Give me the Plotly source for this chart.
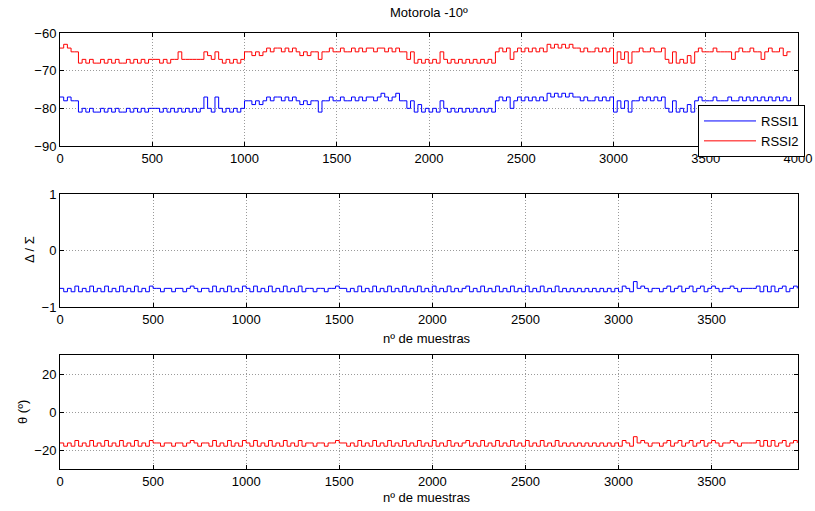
import plotly.graph_objects as go

STEP = 20  # samples between listed readings

rssi1 = [
    -77, -78, -77, -78, -78,
    -81, -80, -81, -80, -81, -81, -80, -81, -80, -81, -80, -81, -81, -80, -81, -80, -81, -80, -81, -80,
    -80, -80,
    -81, -80, -81, -80, -81, -80, -81,
    -80, -81, -80, -81, -80, -77, -80, -81, -77, -80, -81, -80, -81, -80, -81, -80,
    -78, -78, -79, -78, -79, -78,
    -77, -78, -77, -77, -78, -77, -78, -77,
    -78, -79, -78, -79, -78, -78, -81,
    -78, -78, -77, -78, -78, -77, -78, -78, -77, -78,
    -77, -78, -77, -77, -78, -77, -76, -77, -78, -77, -76,
    -78, -78,
    -80, -78, -81, -79,
    -81, -80, -81, -80, -81, -78, -80, -81, -80, -81, -80, -81, -80, -81, -80, -81, -80, -81, -80, -81,
    -78, -77, -78, -77, -80, -78, -77, -78, -77, -78, -77, -78, -77, -78,
    -76, -77, -76, -77, -76, -77, -76, -77,
    -77, -78, -77, -78, -78, -77, -78, -77, -78, -77,
    -81, -78, -80, -78, -81, -78,
    -78, -77, -78, -77, -78, -77, -78, -77,
    -80, -81, -78, -81, -80, -81, -79, -81,
    -78, -77, -78,
    -78, -78, -77, -78, -78, -78, -77, -78, -78, -77, -78, -77, -78, -77, -78, -77, -78, -77, -78, -77, -78, -77, -78, -77,
]

rssi2 = [
    -64, -63, -64, -65, -65,
    -68, -67, -68, -67, -68, -68, -67, -68, -67, -68, -67, -68, -68, -67, -68, -67, -68, -67, -68, -67,
    -67, -67,
    -68, -67, -68, -67, -67, -65, -67,
    -67, -67, -67, -67, -67, -65, -66, -67, -65, -67, -68, -67, -68, -67, -68, -67,
    -65, -65, -66, -65, -66, -65,
    -64, -65, -64, -64, -65, -64, -65, -64,
    -65, -66, -65, -66, -65, -65, -67,
    -65, -65, -64, -65, -65, -64, -65, -65, -64, -65,
    -64, -65, -64, -64, -65, -64, -64, -65, -64, -65, -64,
    -65, -65,
    -67, -65, -68, -67,
    -68, -67, -68, -67, -68, -65, -67, -68, -67, -68, -67, -68, -67, -68, -67, -68, -67, -68, -67, -68,
    -65, -64, -65, -64, -67, -65, -64, -65, -64, -65, -64, -65, -64, -65,
    -63, -64, -63, -64, -63, -64, -63, -64,
    -64, -65, -64, -65, -65, -64, -65, -64, -65, -64,
    -68, -65, -67, -65, -68, -65,
    -65, -64, -65, -65, -64, -65, -65, -64,
    -67, -68, -65, -68, -67, -68, -66, -68,
    -65, -64, -65,
    -65, -65, -64, -65, -65, -65, -65, -67, -65, -64, -65, -65, -64, -65, -65, -67, -65, -64, -65, -65, -64, -66, -65, -65,
]

delta_sigma = [
    -0.67, -0.73, -0.67, -0.73, -0.63, -0.73, -0.67, -0.73, -0.63, -0.73,
    -0.67, -0.73, -0.63, -0.73, -0.67, -0.73, -0.63, -0.73, -0.67, -0.73,
    -0.63, -0.73, -0.67, -0.73, -0.63, -0.67, -0.67, -0.73, -0.67, -0.67,
    -0.73, -0.67, -0.67, -0.73, -0.67, -0.63, -0.67, -0.73, -0.67, -0.67,
    -0.73, -0.63, -0.73, -0.67, -0.73, -0.63, -0.73, -0.67, -0.73, -0.63,
    -0.67, -0.73, -0.63, -0.73, -0.67, -0.73, -0.63, -0.73, -0.67, -0.73,
    -0.63, -0.73, -0.67, -0.73, -0.63, -0.73, -0.67, -0.67, -0.73, -0.67,
    -0.67, -0.73, -0.67, -0.67, -0.63, -0.67, -0.67, -0.73, -0.67, -0.73,
    -0.63, -0.73, -0.67, -0.73, -0.63, -0.73, -0.67, -0.73, -0.63, -0.73,
    -0.67, -0.73, -0.63, -0.73, -0.67, -0.73, -0.63, -0.73, -0.67, -0.73,
    -0.63, -0.73, -0.67, -0.73, -0.63, -0.73, -0.67, -0.73, -0.67, -0.63,
    -0.73, -0.67, -0.73, -0.63, -0.73, -0.67, -0.73, -0.63, -0.73, -0.67,
    -0.73, -0.63, -0.73, -0.67, -0.73, -0.63, -0.73, -0.67, -0.73, -0.63,
    -0.73, -0.67, -0.73, -0.63, -0.73, -0.67, -0.73, -0.67, -0.73, -0.67,
    -0.73, -0.67, -0.73, -0.67, -0.73, -0.67, -0.73, -0.67, -0.73, -0.67,
    -0.73, -0.63, -0.67, -0.73, -0.55, -0.67, -0.63, -0.67, -0.73, -0.67,
    -0.67, -0.73, -0.67, -0.63, -0.73, -0.67, -0.63, -0.73, -0.67, -0.63,
    -0.73, -0.67, -0.63, -0.73, -0.67, -0.63, -0.67, -0.73, -0.67, -0.67,
    -0.63, -0.67, -0.73, -0.67, -0.67, -0.67, -0.67, -0.63, -0.73, -0.63,
    -0.73, -0.63, -0.73, -0.67, -0.63, -0.73, -0.67, -0.63, -0.67,
]

theta = [
    -16.3, -18, -16.3, -18, -15, -18, -16.3, -18, -15, -18,
    -16.3, -18, -15, -18, -16.3, -18, -15, -18, -16.3, -18,
    -15, -18, -16.3, -18, -15, -16.3, -16.3, -18, -16.3, -16.3,
    -18, -16.3, -16.3, -18, -16.3, -15, -16.3, -18, -16.3, -16.3,
    -18, -15, -18, -16.3, -18, -15, -18, -16.3, -18, -15,
    -16.3, -18, -15, -18, -16.3, -18, -15, -18, -16.3, -18,
    -15, -18, -16.3, -18, -15, -18, -16.3, -16.3, -18, -16.3,
    -16.3, -18, -16.3, -16.3, -15, -16.3, -16.3, -18, -16.3, -18,
    -15, -18, -16.3, -18, -15, -18, -16.3, -18, -15, -18,
    -16.3, -18, -15, -18, -16.3, -18, -15, -18, -16.3, -18,
    -15, -18, -16.3, -18, -15, -18, -16.3, -18, -16.3, -15,
    -18, -16.3, -18, -15, -18, -16.3, -18, -15, -18, -16.3,
    -18, -15, -18, -16.3, -18, -15, -18, -16.3, -18, -15,
    -18, -16.3, -18, -15, -18, -16.3, -18, -16.3, -18, -16.3,
    -18, -16.3, -18, -16.3, -18, -16.3, -18, -16.3, -18, -16.3,
    -18, -15, -16.3, -18, -13, -16.3, -15, -16.3, -18, -16.3,
    -16.3, -18, -16.3, -15, -18, -16.3, -15, -18, -16.3, -15,
    -18, -16.3, -15, -18, -16.3, -15, -16.3, -18, -16.3, -16.3,
    -15, -16.3, -18, -16.3, -16.3, -16.3, -16.3, -15, -18, -15,
    -18, -15, -18, -16.3, -15, -18, -16.3, -15, -16.3,
]

top_xticks = [0, 500, 1000, 1500, 2000, 2500, 3000, 3500, 4000]
low_xticks = [0, 500, 1000, 1500, 2000, 2500, 3000, 3500]
top_yticks = [-90, -80, -70, -60]
mid_yticks = [-1, 0, 1]
bot_yticks = [-20, 0, 20]

title_text = "Motorola -10º"
xlabel = "nº de muestras"

def xs(vals):
    return [i * STEP for i in range(len(vals))]

FONT = "Liberation Sans, Arial, sans-serif"
W, H = 815, 511
xdom = [60 / W, 798 / W]
def ydom(top, bottom):
    return [1 - bottom / H, 1 - top / H]

fig = go.Figure()
fig.add_trace(go.Scatter(x=xs(rssi1), y=rssi1, mode="lines", line=dict(color="#0000FF", width=1, shape="hv"),
                         name="RSSI1", xaxis="x", yaxis="y"))
fig.add_trace(go.Scatter(x=xs(rssi2), y=rssi2, mode="lines", line=dict(color="#FF0000", width=1, shape="hv"),
                         name="RSSI2", xaxis="x", yaxis="y"))
fig.add_trace(go.Scatter(x=xs(delta_sigma), y=delta_sigma, mode="lines",
                         line=dict(color="#0000FF", width=1, shape="hv"), showlegend=False, xaxis="x2", yaxis="y2"))
fig.add_trace(go.Scatter(x=xs(theta), y=theta, mode="lines",
                         line=dict(color="#FF0000", width=1, shape="hv"), showlegend=False, xaxis="x3", yaxis="y3"))

axis_common = dict(showline=True, linecolor="black", linewidth=1, mirror="ticks",
                   ticks="inside", ticklen=4, tickcolor="black", automargin=False,
                   showgrid=True, gridcolor="#9a9a9a", griddash="1px,2px", gridwidth=1,
                   zeroline=False, tickfont=dict(family=FONT, size=13, color="black"))

fig.update_layout(
    width=W, height=H, autosize=False,
    margin=dict(l=0, r=0, t=0, b=0, pad=0, autoexpand=False),
    paper_bgcolor="white", plot_bgcolor="white",
    font=dict(family=FONT, size=13, color="black"),
    xaxis=dict(domain=xdom, range=[0, 4000], tickvals=top_xticks, anchor="y", **axis_common),
    yaxis=dict(domain=ydom(33, 146), range=[-90, -60], tickvals=top_yticks, anchor="x", **axis_common),
    xaxis2=dict(domain=xdom, range=[0, 3964], tickvals=low_xticks, anchor="y2", **axis_common),
    yaxis2=dict(domain=ydom(194, 307), range=[-1, 1], tickvals=mid_yticks, anchor="x2", **axis_common),
    xaxis3=dict(domain=xdom, range=[0, 3964], tickvals=low_xticks, anchor="y3", **axis_common),
    yaxis3=dict(domain=ydom(355, 469), range=[-30, 30], tickvals=bot_yticks, anchor="x3", **axis_common),
    legend=dict(x=698 / W, y=1 - 105 / H, xanchor="left", yanchor="top",
                bgcolor="white", bordercolor="black", borderwidth=1, itemwidth=52,
                font=dict(family=FONT, size=13, color="black"), tracegroupgap=0),
    showlegend=True,
)

ann = dict(xref="paper", yref="paper", showarrow=False, font=dict(family=FONT, size=13, color="black"))
fig.add_annotation(text=title_text, x=429 / W, y=1 - 12 / H, xanchor="center", yanchor="middle", **ann)
fig.add_annotation(text=xlabel, x=427 / W, y=1 - 338 / H, xanchor="center", yanchor="middle", **ann)
fig.add_annotation(text=xlabel, x=427 / W, y=1 - 497 / H, xanchor="center", yanchor="middle", **ann)
fig.add_annotation(text="Δ / Σ", x=29 / W, y=1 - 250 / H, xanchor="center", yanchor="middle", textangle=-90, **ann)
fig.add_annotation(text="θ (º)", x=22 / W, y=1 - 412 / H, xanchor="center", yanchor="middle", textangle=-90, **ann)

fig.write_html("out.html", config={"responsive": False, "displayModeBar": False},
               post_script="document.body.style.margin='0';document.body.style.padding='0';"
                           "document.body.style.overflow='hidden';")
